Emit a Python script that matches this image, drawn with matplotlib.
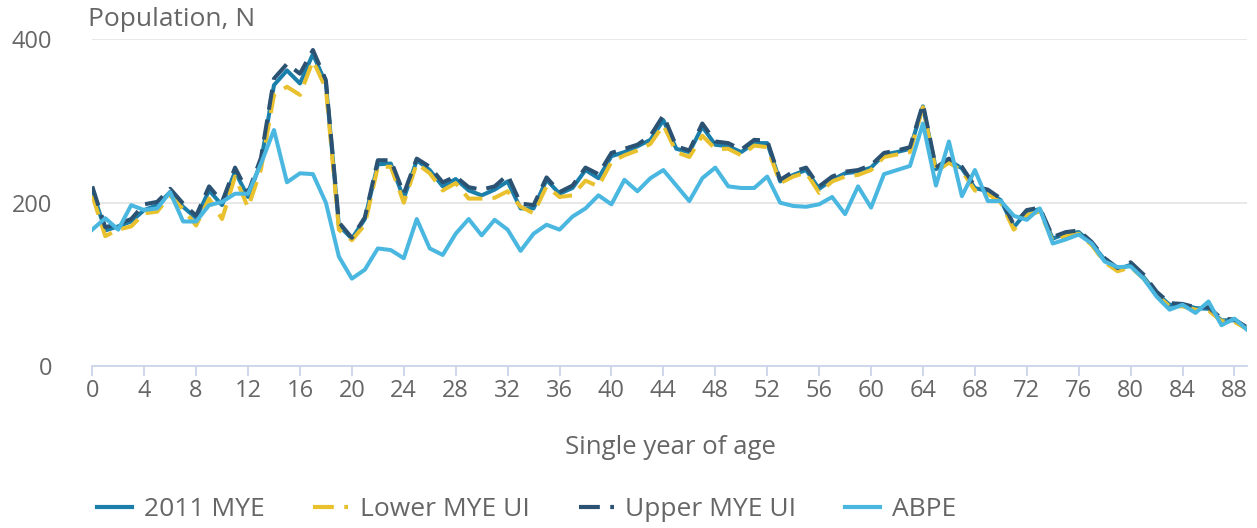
import matplotlib.pyplot as plt
from matplotlib.lines import Line2D

plt.rcParams['font.family'] = ['Open Sans', 'DejaVu Sans']

# single year of age, 0-89
ages = list(range(90))

mye_2011 = [215, 166, 171, 177, 191, 197, 213, 195, 181, 215,
            197, 238, 207, 250, 344, 362, 346, 382, 346, 172,
            156, 180, 247, 248, 205, 252, 240, 220, 229, 215,
            209, 216, 226, 193, 193, 228, 211, 218, 240, 230,
            257, 262, 269, 277, 301, 266, 262, 293, 271, 269,
            262, 273, 273, 226, 234, 240, 217, 228, 236, 238,
            243, 259, 262, 266, 318, 241, 252, 242, 218, 214,
            203, 170, 189, 192, 156, 162, 164, 150, 130, 118,
            124, 109, 89, 75, 75, 71, 70, 56, 56, 46]

lower_ui = [209, 159, 167, 171, 187, 189, 209, 192, 172, 205,
            180, 232, 194, 241, 332, 342, 332, 374, 340, 167,
            154, 173, 244, 244, 200, 248, 236, 215, 224, 205,
            205, 206, 214, 195, 187, 220, 207, 209, 227, 220,
            250, 258, 264, 272, 295, 262, 256, 282, 266, 266,
            258, 270, 268, 224, 232, 237, 212, 226, 232, 234,
            240, 256, 259, 262, 317, 238, 249, 239, 215, 211,
            200, 167, 185, 189, 153, 159, 162, 148, 127, 116,
            121, 107, 87, 73, 73, 69, 68, 55, 54, 45]

upper_ui = [220, 170, 174, 180, 198, 201, 217, 199, 184, 220,
            201, 243, 212, 255, 352, 370, 358, 387, 350, 176,
            157, 182, 252, 252, 211, 254, 244, 225, 232, 219,
            216, 220, 234, 199, 197, 231, 213, 221, 243, 235,
            261, 266, 271, 282, 307, 269, 264, 297, 275, 273,
            265, 277, 276, 228, 238, 243, 220, 232, 238, 240,
            246, 261, 264, 268, 321, 243, 254, 244, 220, 216,
            205, 173, 191, 194, 158, 164, 166, 152, 132, 120,
            127, 112, 91, 77, 76, 72, 72, 58, 57, 47]

abpe = [167, 181, 167, 197, 191, 193, 213, 177, 177, 197,
        201, 211, 211, 248, 289, 225, 236, 235, 200, 134,
        107, 118, 144, 142, 132, 180, 144, 136, 162, 180,
        160, 179, 167, 141, 162, 173, 167, 183, 193, 209,
        198, 228, 214, 230, 240, 221, 202, 230, 243, 220,
        218, 218, 232, 200, 196, 195, 198, 207, 186, 220,
        194, 235, 240, 245, 297, 221, 275, 208, 240, 202,
        202, 184, 179, 193, 150, 155, 161, 150, 128, 121,
        122, 107, 85, 69, 75, 65, 79, 50, 58, 44]

series_names = ['2011 MYE', 'Lower MYE UI', 'Upper MYE UI', 'ABPE']
colors = ['#1a7fab', '#e9c12f', '#2b5273', '#4ab7e0']
text_grey = '#666666'
dash = (5, 2.5)

fig = plt.figure(figsize=(12.57, 5.28), dpi=100)
ax = fig.add_axes([0.0734, 0.3068, 0.919, 0.6186])

lw = 2.9
ax.plot(ages, mye_2011, color=colors[0], lw=lw, zorder=3)
ax.plot(ages, lower_ui, color=colors[1], lw=lw, dashes=dash, zorder=4)
ax.plot(ages, upper_ui, color=colors[2], lw=lw, dashes=dash, zorder=5)
ax.plot(ages, abpe, color=colors[3], lw=lw, zorder=6)

ax.set_xlim(0, 89)
ax.set_ylim(0, 400)
ax.set_yticks([0, 200, 400])
ax.set_xticks(range(0, 89, 4))
ax.yaxis.grid(True, color='#e6e6e6', lw=1.3)
ax.set_axisbelow(True)

for side in ['top', 'right', 'left']:
    ax.spines[side].set_visible(False)
ax.spines['bottom'].set_color('#ccd6eb')
ax.spines['bottom'].set_linewidth(1.3)

ax.tick_params(axis='x', length=7.5, width=1.3, color='#ccd6eb', pad=2,
               labelsize=17, labelcolor=text_grey)
ax.tick_params(axis='y', length=0, pad=29, labelsize=17, labelcolor=text_grey)

fig.text(88 / 1257, 1 - 20 / 528, 'Population, N', fontsize=19,
         color=text_grey, va='center', ha='left')
fig.text(670 / 1257, 1 - 447 / 528, 'Single year of age', fontsize=18.5,
         color=text_grey, va='center', ha='center')

handles = [Line2D([], [], color=colors[0], lw=3),
           Line2D([], [], color=colors[1], lw=3, dashes=dash),
           Line2D([], [], color=colors[2], lw=3, dashes=dash),
           Line2D([], [], color=colors[3], lw=3)]
fig.legend(handles, series_names, loc='center left',
           bbox_to_anchor=(97 / 1257, 1 - 510 / 528), ncol=4, frameon=False,
           fontsize=19, labelcolor=text_grey, handlelength=1.32,
           handletextpad=0.45, columnspacing=1.85, borderpad=0,
           borderaxespad=0)

fig.savefig('out.png', dpi=100)
